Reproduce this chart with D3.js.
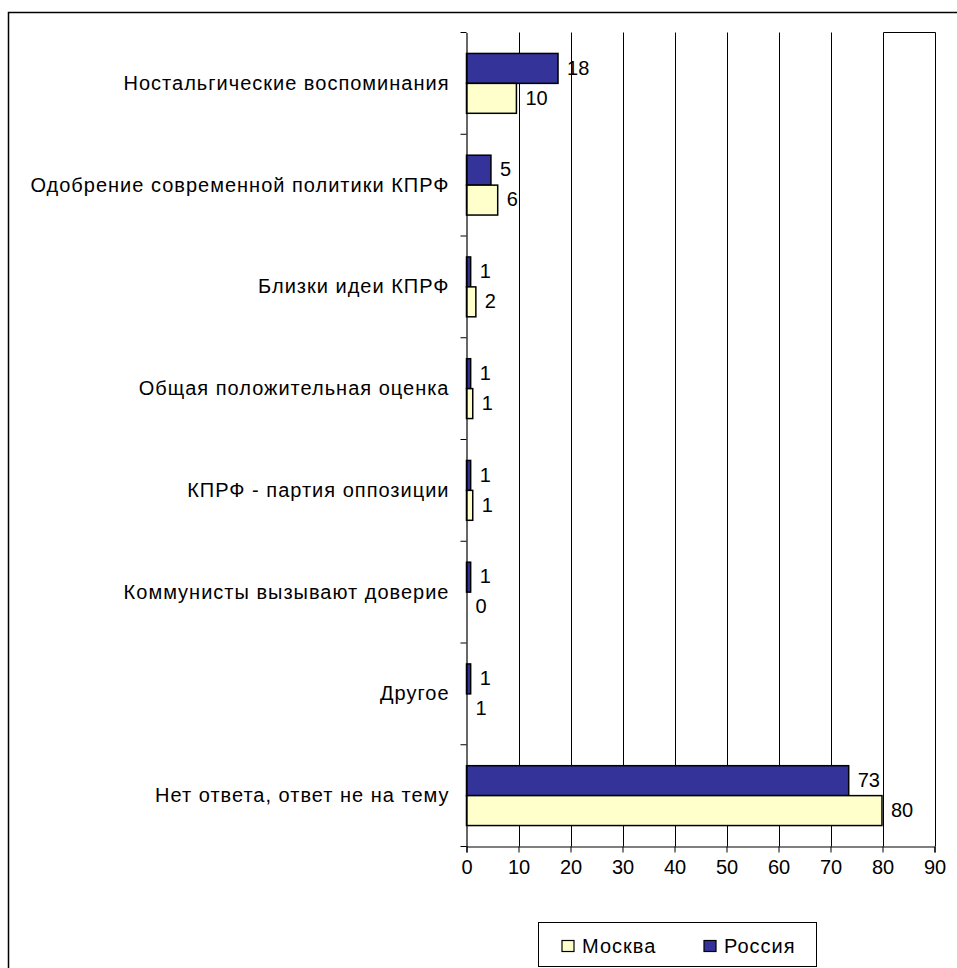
<!DOCTYPE html>
<html><head><meta charset="utf-8">
<script src="https://cdn.jsdelivr.net/npm/d3@7"></script>
<style>
html,body{margin:0;padding:0;background:#fff;}
svg{display:block;}
text{font-family:"Liberation Sans",Arial,sans-serif;fill:#000;}
</style></head>
<body>
<svg id="c" width="957" height="968"></svg>
<script>
const categories = [
  "Ностальгические воспоминания",
  "Одобрение современной политики КПРФ",
  "Близки идеи КПРФ",
  "Общая положительная оценка",
  "КПРФ - партия оппозиции",
  "Коммунисты вызывают доверие",
  "Другое",
  "Нет ответа, ответ не на тему"
];
const seriesNames = ["Москва", "Россия"];
// estimated bar lengths
const russiaValues = [17.6, 4.7, 0.8, 0.8, 0.8, 0.8, 0.8, 73.5];
const moscowValues = [9.6, 6.0, 1.8, 1.2, 1.2, 0, 0, 79.9];
// data labels as printed
const russiaLabels = ["18", "5", "1", "1", "1", "1", "1", "73"];
const moscowLabels = ["10", "6", "2", "1", "1", "0", "1", "80"];
const xTicks = [0, 10, 20, 30, 40, 50, 60, 70, 80, 90];
const colors = {"Москва": "#FFFFCC", "Россия": "#333399"};

const svg = d3.select("#c");
const FS = 20;

// outer frame
svg.append("rect").attr("x", 8.5).attr("y", 12.5).attr("width", 1200).attr("height", 1200)
  .attr("fill", "none").attr("stroke", "#000").attr("stroke-width", 1.5);

const x = d3.scaleLinear().domain([0, 90]).range([466.5, 934.5]);
const y = d3.scaleBand().domain(categories).range([32.5, 846.5]).paddingInner(0).paddingOuter(0);
const y1 = d3.scaleBand().domain(["Россия", "Москва"]).range([0, y.bandwidth()]).paddingInner(0).paddingOuter(0.7);

const plotTop = y.range()[0], plotBottom = y.range()[1];

// gridlines
svg.append("g").selectAll("line").data(xTicks.slice(1)).join("line")
  .attr("x1", d => Math.round(x(d)) + 0.5).attr("x2", d => Math.round(x(d)) + 0.5)
  .attr("y1", plotTop).attr("y2", plotBottom)
  .attr("stroke", "#000").attr("stroke-width", 1);
// small top segment at right edge
svg.append("line").attr("x1", Math.round(x(80)) + 0.5).attr("x2", Math.round(x(90)) + 0.5)
  .attr("y1", plotTop).attr("y2", plotTop).attr("stroke", "#000");

// bars
const rows = categories.map((c, i) => ({c, i}));
const g = svg.append("g");
rows.forEach(r => {
  [["Россия", russiaValues[r.i], russiaLabels[r.i]], ["Москва", moscowValues[r.i], moscowLabels[r.i]]].forEach(([s, v, lab]) => {
    const yy = y(r.c) + y1(s);
    if (v > 0) {
      g.append("rect").attr("x", x(0)).attr("y", yy)
        .attr("width", x(v) - x(0)).attr("height", y1.bandwidth())
        .attr("fill", colors[s]).attr("stroke", "#000").attr("stroke-width", 1.5);
    }
    g.append("text").attr("x", x(v) + 9).attr("y", yy + y1.bandwidth() / 2 - 1)
      .attr("dy", "0.36em").attr("font-size", FS).text(lab);
  });
});

// x axis
const xAxis = d3.axisBottom(x).tickValues(xTicks).tickSize(6).tickPadding(7).tickFormat(d3.format("d"));
const xg = svg.append("g").attr("transform", `translate(0,${plotBottom})`).call(xAxis);
xg.select(".domain").attr("stroke", "#000").attr("stroke-width", 1.2);
xg.selectAll(".tick line").attr("stroke", "#000");
xg.selectAll("text").attr("font-size", FS).attr("font-family", "Liberation Sans, Arial, sans-serif").attr("fill", "#000");

// y axis
const yAxis = d3.axisLeft(y).tickSize(0).tickPadding(17);
const yg = svg.append("g").attr("transform", `translate(${x(0)},0)`).call(yAxis);
yg.select(".domain").attr("stroke", "#000").attr("stroke-width", 1.2);
yg.selectAll("text").attr("font-size", FS).attr("font-family", "Liberation Sans, Arial, sans-serif")
  .attr("fill", "#000").attr("letter-spacing", "1px");
// boundary ticks between categories
const bounds = categories.map(c => y(c)).concat([plotBottom]);
svg.append("g").selectAll("line").data(bounds).join("line")
  .attr("x1", x(0) - 6).attr("x2", x(0)).attr("y1", d => d).attr("y2", d => d)
  .attr("stroke", "#000");

// legend
const lg = svg.append("g");
lg.append("rect").attr("x", 538.5).attr("y", 922.5).attr("width", 278).attr("height", 44)
  .attr("fill", "#fff").attr("stroke", "#000").attr("stroke-width", 1);
const legendX = [562, 704];
seriesNames.forEach((s, i) => {
  lg.append("rect").attr("x", legendX[i]).attr("y", 940.5).attr("width", 12).attr("height", 11)
    .attr("fill", colors[s]).attr("stroke", "#000").attr("stroke-width", 1.2);
  lg.append("text").attr("x", legendX[i] + 20).attr("y", 946).attr("dy", "0.36em")
    .attr("font-size", FS).attr("letter-spacing", "1px").text(s);
});
</script>
</body></html>
